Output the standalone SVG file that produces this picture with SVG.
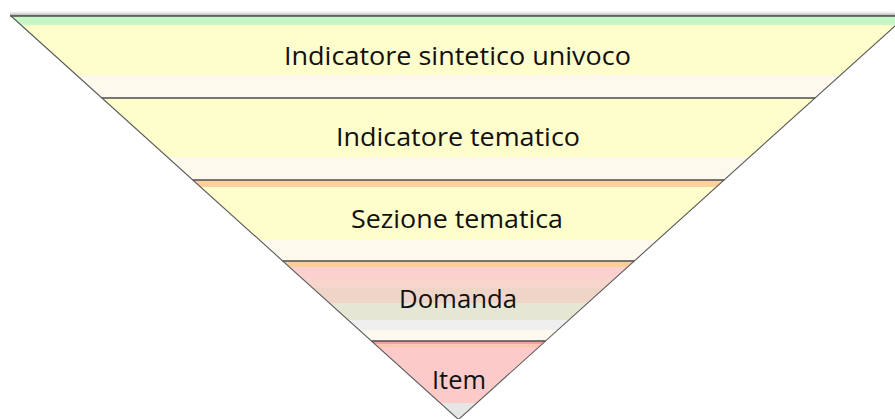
<svg xmlns="http://www.w3.org/2000/svg" width="895" height="419" viewBox="0 0 895 419">
  <style>
    .lbl { font-family: "Open Sans", "Noto Sans", "Liberation Sans", sans-serif; font-size: 25px; fill: #111111; text-anchor: middle; }
    .div { stroke: #4d4d4d; stroke-width: 1.6; fill: none; }
    .edge { stroke: #5a5a5a; stroke-width: 1.1; fill: none; }
  </style>
  <defs>
    <clipPath id="tri">
      <polygon points="11,16 906,16 458.5,419.5"/>
    </clipPath>
    <linearGradient id="shadow" x1="0" y1="0" x2="0" y2="1">
      <stop offset="0" stop-color="#ffffff" stop-opacity="0"/>
      <stop offset="1" stop-color="#8a8a8a" stop-opacity="0.9"/>
    </linearGradient>
  </defs>
  <rect x="0" y="0" width="895" height="419" fill="#ffffff"/>
  <rect x="10" y="10" width="890" height="6" fill="url(#shadow)"/>

  <g clip-path="url(#tri)">
    <g id="band-1">
      <rect x="0" y="16" width="910" height="9" fill="#c6f7c6"/>
      <rect x="0" y="25" width="910" height="50" fill="#fefdcc"/>
      <rect x="0" y="75" width="910" height="23" fill="#fdf9ec"/>
    </g>
    <g id="band-2">
      <rect x="0" y="98" width="910" height="59" fill="#fefdcc"/>
      <rect x="0" y="157" width="910" height="23" fill="#fdf9ec"/>
    </g>
    <g id="band-3">
      <rect x="0" y="180" width="910" height="7" fill="#fdd0a0"/>
      <rect x="0" y="187" width="910" height="53" fill="#fefdcc"/>
      <rect x="0" y="240" width="910" height="21" fill="#fdf9ec"/>
    </g>
    <g id="band-4">
      <rect x="0" y="261" width="910" height="6" fill="#fdcd9a"/>
      <rect x="0" y="267" width="910" height="11" fill="#fdd0d0"/>
      <rect x="0" y="278" width="910" height="10" fill="#f8d5cc"/>
      <rect x="0" y="288" width="910" height="15" fill="#efd5c8"/>
      <rect x="0" y="303" width="910" height="17" fill="#e6e6d5"/>
      <rect x="0" y="320" width="910" height="10" fill="#efefef"/>
      <rect x="0" y="330" width="910" height="11" fill="#fdf9ee"/>
    </g>
    <g id="band-5">
      <rect x="0" y="341" width="910" height="3.5" fill="#fc9c9c"/>
      <rect x="0" y="344.5" width="910" height="2.5" fill="#fdc6a8"/>
      <rect x="0" y="347" width="910" height="56" fill="#fdcaca"/>
      <rect x="0" y="403" width="910" height="17" fill="#e6e6e6"/>
    </g>
  </g>

  <g id="outline">
    <line class="div" x1="10" y1="16" x2="906" y2="16"/>
    <line class="edge" x1="11" y1="16" x2="458.5" y2="419.5"/>
    <line class="edge" x1="906" y1="16" x2="458.5" y2="419.5"/>
    <line class="div" x1="101.9" y1="98" x2="815.1" y2="98"/>
    <line class="div" x1="192.9" y1="180" x2="724.1" y2="180"/>
    <line class="div" x1="282.7" y1="261" x2="634.3" y2="261"/>
    <line class="div" x1="371.5" y1="341" x2="545.5" y2="341"/>
  </g>

  <g id="labels">
    <text class="lbl" x="457.5" y="64.5" textLength="347" lengthAdjust="spacingAndGlyphs">Indicatore sintetico univoco</text>
    <text class="lbl" x="458" y="145.5" textLength="244" lengthAdjust="spacingAndGlyphs">Indicatore tematico</text>
    <text class="lbl" x="457" y="228" textLength="212" lengthAdjust="spacingAndGlyphs">Sezione tematica</text>
    <text class="lbl" x="458" y="308" textLength="118" lengthAdjust="spacingAndGlyphs">Domanda</text>
    <text class="lbl" x="459" y="388.5" textLength="54" lengthAdjust="spacingAndGlyphs">Item</text>
  </g>
</svg>
